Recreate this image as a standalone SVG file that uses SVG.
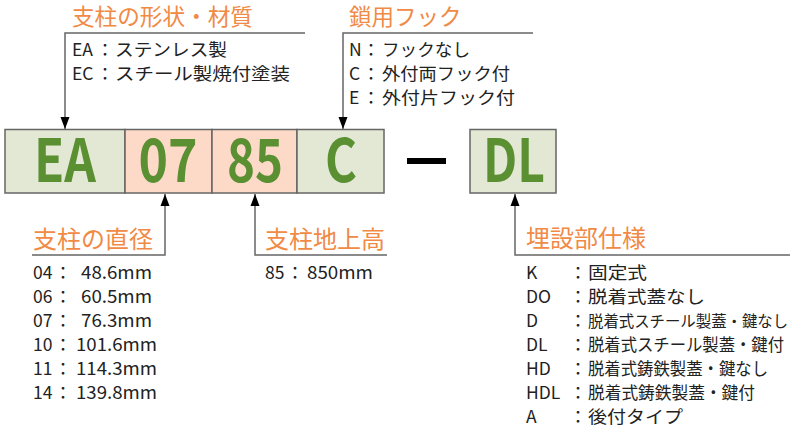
<svg xmlns="http://www.w3.org/2000/svg" width="800" height="432" viewBox="0 0 800 432">
<style>
.h{font-family:"Noto Sans CJK JP","Noto Sans",sans-serif;fill:#f08a45;font-size:22.5px}
.hb{font-family:"Noto Sans CJK JP","Noto Sans",sans-serif;fill:#f08a45;font-size:24px}
.t{font-family:"Noto Sans CJK JP","Noto Sans",sans-serif;fill:#222;font-size:17.5px}
.tn{font-family:"Noto Sans CJK JP","Noto Sans",sans-serif;fill:#222;font-size:15.4px}
.c{text-anchor:middle}
.code{font-family:"Noto Sans CJK JP","Noto Sans",sans-serif;font-weight:bold;fill:#5a8f32;font-size:60px;text-anchor:middle}
.box{stroke:#666;stroke-width:1.5}
.g{fill:#e3e8d4}
.s{fill:#fcdac7}
.ln{fill:none;stroke:#666;stroke-width:1.5}
</style>
<defs>
<marker id="ah" markerUnits="userSpaceOnUse" markerWidth="12" markerHeight="16" refX="16" refY="6" orient="auto" viewBox="0 0 16 12">
<path d="M0,0 L16,6 L0,12 Z" fill="#000"/>
</marker>
</defs>
<g id="connectors">
<path class="ln" d="M305,33 H65 V129" marker-end="url(#ah)"/>
<path class="ln" d="M533,33 H343 V129" marker-end="url(#ah)"/>
<path class="ln" d="M32,255 H165 V194" marker-end="url(#ah)"/>
<path class="ln" d="M387,255 H255 V194" marker-end="url(#ah)"/>
<path class="ln" d="M790,255 H515 V194" marker-end="url(#ah)"/>
</g>
<g id="node-EA">
<rect class="box g" x="5" y="129.5" width="120" height="63.5"/>
<text class="code" x="65" y="182" textLength="62" lengthAdjust="spacingAndGlyphs">EA</text>
</g>
<g id="node-07">
<rect class="box s" x="125" y="129.5" width="87" height="63.5"/>
<text class="code" x="168" y="182" textLength="59" lengthAdjust="spacingAndGlyphs">07</text>
</g>
<g id="node-85">
<rect class="box s" x="212" y="129.5" width="85" height="63.5"/>
<text class="code" x="255" y="182" textLength="56" lengthAdjust="spacingAndGlyphs">85</text>
</g>
<g id="node-C">
<rect class="box g" x="297" y="129.5" width="87" height="63.5"/>
<text class="code" x="341" y="182" textLength="32" lengthAdjust="spacingAndGlyphs">C</text>
</g>
<g id="dash">
<rect x="407" y="158" width="39" height="6" fill="#000"/>
</g>
<g id="node-DL">
<rect class="box g" x="470" y="129.5" width="86" height="63.5"/>
<text class="code" x="514" y="182" textLength="62" lengthAdjust="spacingAndGlyphs">DL</text>
</g>
<g id="label-material">
<text class="h" x="72" y="25" textLength="181" lengthAdjust="spacingAndGlyphs">支柱の形状・材質</text>
<text class="t" x="72" y="56">EA</text><text class="t c" x="105" y="56">：</text><text class="t" x="115" y="56" textLength="112" lengthAdjust="spacingAndGlyphs">ステンレス製</text>
<text class="t" x="72" y="80">EC</text><text class="t c" x="105" y="80">：</text><text class="t" x="115" y="80" textLength="175" lengthAdjust="spacingAndGlyphs">スチール製焼付塗装</text>
</g>
<g id="label-hook">
<text class="h" x="349" y="25">鎖用フック</text>
<text class="t" x="349" y="56">N</text><text class="t c" x="371" y="56">：</text><text class="t" x="382" y="56" textLength="88" lengthAdjust="spacingAndGlyphs">フックなし</text>
<text class="t" x="349" y="80">C</text><text class="t c" x="371" y="80">：</text><text class="t" x="382" y="80" textLength="128" lengthAdjust="spacingAndGlyphs">外付両フック付</text>
<text class="t" x="349" y="104">E</text><text class="t c" x="371" y="104">：</text><text class="t" x="382" y="104" textLength="133" lengthAdjust="spacingAndGlyphs">外付片フック付</text>
</g>
<g id="label-diameter">
<text class="hb" x="33" y="248">支柱の直径</text>
<text class="t" x="33" y="279">04</text><text class="t c" x="63" y="279">：</text><text class="t" x="81" y="279" textLength="71" lengthAdjust="spacingAndGlyphs">48.6mm</text>
<text class="t" x="33" y="303">06</text><text class="t c" x="63" y="303">：</text><text class="t" x="81" y="303" textLength="71" lengthAdjust="spacingAndGlyphs">60.5mm</text>
<text class="t" x="33" y="327">07</text><text class="t c" x="63" y="327">：</text><text class="t" x="81" y="327" textLength="71" lengthAdjust="spacingAndGlyphs">76.3mm</text>
<text class="t" x="33" y="351">10</text><text class="t c" x="63" y="351">：</text><text class="t" x="76" y="351" textLength="81" lengthAdjust="spacingAndGlyphs">101.6mm</text>
<text class="t" x="33" y="375">11</text><text class="t c" x="63" y="375">：</text><text class="t" x="76" y="375" textLength="81" lengthAdjust="spacingAndGlyphs">114.3mm</text>
<text class="t" x="33" y="399">14</text><text class="t c" x="63" y="399">：</text><text class="t" x="76" y="399" textLength="81" lengthAdjust="spacingAndGlyphs">139.8mm</text>
</g>
<g id="label-height">
<text class="hb" x="265" y="248">支柱地上高</text>
<text class="t" x="265" y="279">85</text><text class="t c" x="295" y="279">：</text><text class="t" x="307" y="279" textLength="66" lengthAdjust="spacingAndGlyphs">850mm</text>
</g>
<g id="label-buried">
<text class="hb" x="526" y="247">埋設部仕様</text>
<text class="t" x="526" y="279">K</text><text class="t c" x="578" y="279">：</text><text class="t" x="588" y="279" textLength="59" lengthAdjust="spacingAndGlyphs">固定式</text>
<text class="t" x="526" y="303">DO</text><text class="t c" x="578" y="303">：</text><text class="t" x="588" y="303" textLength="117" lengthAdjust="spacingAndGlyphs">脱着式蓋なし</text>
<text class="t" x="526" y="327">D</text><text class="t c" x="578" y="327">：</text><text class="tn" x="588" y="327">脱着式スチール製蓋・鍵なし</text>
<text class="t" x="526" y="351">DL</text><text class="t c" x="578" y="351">：</text><text class="t" x="588" y="351" textLength="196" lengthAdjust="spacingAndGlyphs">脱着式スチール製蓋・鍵付</text>
<text class="t" x="526" y="375">HD</text><text class="t c" x="578" y="375">：</text><text class="t" x="588" y="375" textLength="180" lengthAdjust="spacingAndGlyphs">脱着式鋳鉄製蓋・鍵なし</text>
<text class="t" x="526" y="399">HDL</text><text class="t c" x="578" y="399">：</text><text class="t" x="588" y="399" textLength="167" lengthAdjust="spacingAndGlyphs">脱着式鋳鉄製蓋・鍵付</text>
<text class="t" x="526" y="423">A</text><text class="t c" x="578" y="423">：</text><text class="t" x="588" y="423" textLength="95" lengthAdjust="spacingAndGlyphs">後付タイプ</text>
</g>
</svg>
